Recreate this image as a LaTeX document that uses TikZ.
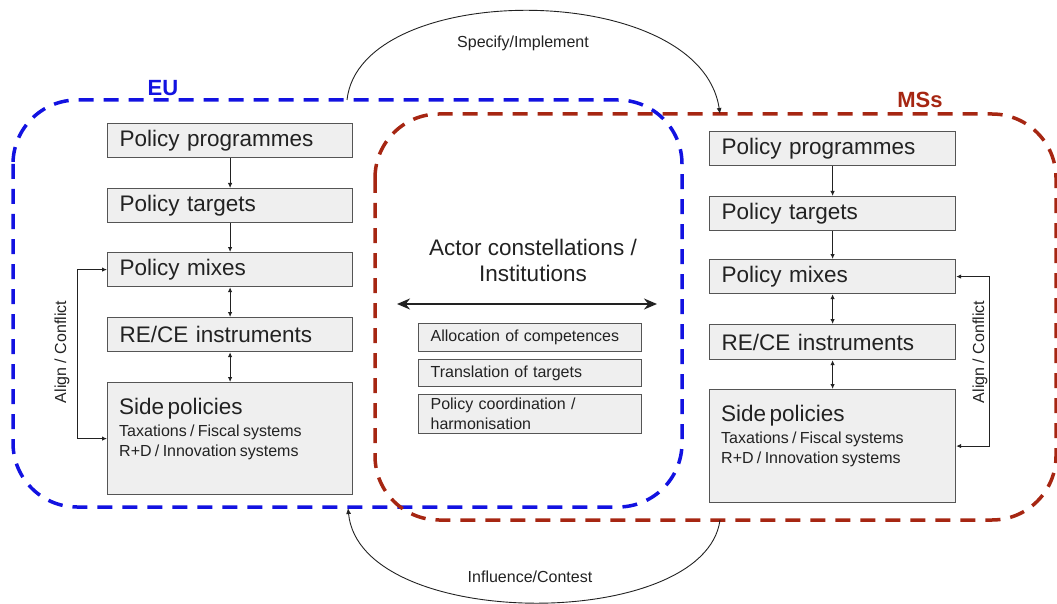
\documentclass[tikz,border=0pt]{standalone}
\usepackage{fontspec}
\setmainfont{Liberation Sans}
\usetikzlibrary{arrows.meta}
\definecolor{eublue}{RGB}{18,18,225}
\definecolor{msred}{RGB}{166,38,18}
\definecolor{boxfill}{RGB}{239,239,239}
\definecolor{boxline}{RGB}{85,85,85}
\definecolor{ink}{RGB}{34,34,34}
\newcommand{\bigtxt}{\fontsize{22.5}{26}\selectfont}
\newcommand{\smalltxt}{\fontsize{16}{20}\selectfont}
\newcommand{\lbltxt}{\fontsize{22}{26}\selectfont\bfseries}
\newcommand{\sidecontent}{{\bigtxt Side policies\par}\vspace{2pt}{\smalltxt Taxations / Fiscal systems\par R+D / Innovation systems\par}}
\begin{document}
\begin{tikzpicture}[x=1pt,y=-1pt,
  every node/.style={text=ink},
  frame/.style={line width=3.5pt,dash pattern=on 15pt off 10pt,rounded corners=64pt},
  pbox/.style={draw=boxline,fill=boxfill,line width=1.2pt,rectangle,inner ysep=0pt,inner xsep=12pt,anchor=north west,align=left},
  colbox/.style={pbox,minimum width=245pt,text width=221pt,minimum height=34pt,font=\bigtxt},
  sbox/.style={pbox,minimum width=223pt,text width=199pt,font=\smalltxt},
  carrow/.style={draw=ink,line width=0.9pt,-{Latex[length=5pt,width=4.5pt]}},
  dcarrow/.style={draw=ink,line width=0.9pt,{Latex[length=5pt,width=4.5pt]}-{Latex[length=5pt,width=4.5pt]}},
  arcline/.style={draw=ink,line width=0.9pt,-{Latex[length=6pt,width=5pt]}},
  sidetxt/.style={anchor=north west,inner sep=0pt,text width=225pt}
]
\useasboundingbox (0,0) rectangle (1057,604);

% frames
\draw[frame,draw=eublue] (13,100) rectangle (682,507);
\draw[frame,draw=msred] (375,114) rectangle (1056,520);
\node[font=\lbltxt,text=eublue] (eu) at (163,88) {EU};
\node[font=\lbltxt,text=msred] (ms) at (920,100) {MSs};

% left column
\node[colbox] (lprog) at (107,123) {Policy programmes};
\node[colbox] (ltarg) at (107,188) {Policy targets};
\node[colbox] (lmix) at (107,252) {Policy mixes};
\node[colbox] (lrece) at (107,317) {RE/CE instruments};
\node[pbox,minimum width=245pt,minimum height=112pt] (lside) at (107,382) {};
\node[sidetxt] (lsidetxt) at ([xshift=12pt,yshift=-16pt]lside.north west) {\sidecontent};
\draw[carrow] (lprog.south) -- (ltarg.north);
\draw[carrow] (ltarg.south) -- (lmix.north);
\draw[dcarrow] (lmix.south) -- (lrece.north);
\draw[dcarrow] (lrece.south) -- (lside.north);
\draw[dcarrow] (lmix.west) -- ++(-30,0) |- (lside.west);
\node[rotate=90,font=\smalltxt] (lalign) at (62,352) {Align / Conflict};

% right column
\node[colbox,minimum width=246pt,text width=222pt] (rprog) at (709,131) {Policy programmes};
\node[colbox,minimum width=246pt,text width=222pt] (rtarg) at (709,196) {Policy targets};
\node[colbox,minimum width=246pt,text width=222pt] (rmix) at (709,259) {Policy mixes};
\node[colbox,minimum width=246pt,text width=222pt,minimum height=35pt] (rrece) at (709,324) {RE/CE instruments};
\node[pbox,minimum width=246pt,minimum height=113pt] (rside) at (709,389) {};
\node[sidetxt] (rsidetxt) at ([xshift=12pt,yshift=-16pt]rside.north west) {\sidecontent};
\draw[carrow] (rprog.south) -- (rtarg.north);
\draw[carrow] (rtarg.south) -- (rmix.north);
\draw[dcarrow] (rmix.south) -- (rrece.north);
\draw[dcarrow] (rrece.south) -- (rside.north);
\draw[dcarrow] (rmix.east) -- ++(33,0) |- (rside.east);
\node[rotate=90,font=\smalltxt,inner sep=1pt] (ralign) at (980,352) {Align / Conflict};

% centre
\node[align=center,font=\bigtxt] (actor) at (533,260) {Actor constellations /\\Institutions};
\coordinate (al) at (397,304);
\coordinate (ar) at (657,304);
\draw[draw=ink,line width=1.8pt,{Stealth[length=13pt,width=11pt]}-{Stealth[length=13pt,width=11pt]}] (al) -- (ar);
\node[sbox,minimum height=28pt] (alloc) at (418,323) {Allocation of competences};
\node[sbox,minimum height=27pt] (trans) at (418,359) {Translation of targets};
\node[sbox,minimum height=39pt] (coord) at (418,394) {Policy coordination /\\harmonisation};

% arcs
\coordinate (spS) at (347,100);
\coordinate (spE) at (720,114);
\draw[arcline] (spS) .. controls (360,-21) and (700,-21) .. (spE);
\node[font=\smalltxt] (spec) at (523,43) {Specify/Implement};
\coordinate (ifS) at (720,520);
\coordinate (ifE) at (348,508);
\draw[arcline] (ifS) .. controls (705,632) and (360,632) .. (ifE);
\node[font=\smalltxt] (infl) at (530,577) {Influence/Contest};
\end{tikzpicture}
\end{document}
